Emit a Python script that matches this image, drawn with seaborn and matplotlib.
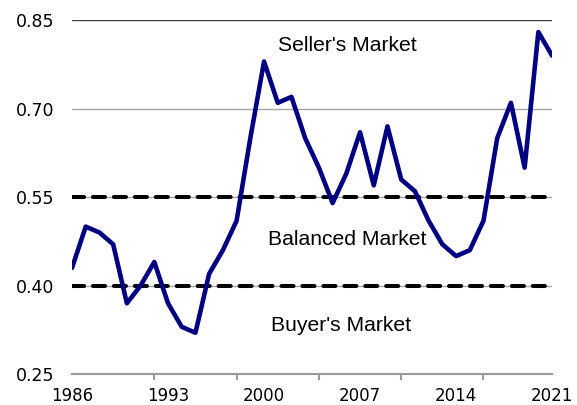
import pandas as pd
import matplotlib
matplotlib.use("Agg")
import matplotlib.pyplot as plt
import seaborn as sns

# ── Data ──────────────────────────────────────────────
years = list(range(1986, 2022))
ratio = [0.43, 0.50, 0.49, 0.47, 0.37, 0.40, 0.44, 0.37, 0.33, 0.32,
         0.42, 0.46, 0.51, 0.65, 0.78, 0.71, 0.72, 0.65, 0.60, 0.54,
         0.59, 0.66, 0.57, 0.67, 0.58, 0.56, 0.51, 0.47, 0.45, 0.46,
         0.51, 0.65, 0.71, 0.60, 0.83, 0.79]
thresholds = [0.55, 0.40]
zone_labels = ["Seller's Market", "Balanced Market", "Buyer's Market"]
zone_pos = [(2006.1, 0.807), (2006.1, 0.478), (2005.6, 0.332)]
label_years = [1986, 1993, 2000, 2007, 2014, 2021]
mark_years = [1986, 1992, 1998, 2004, 2010, 2016]
y_ticks = [0.25, 0.40, 0.55, 0.70, 0.85]

df = pd.DataFrame({"Year": years, "Ratio": ratio})

# ── Plot ──────────────────────────────────────────────
sns.set_theme(style="white")
plt.rcParams["font.family"] = ["DejaVu Sans"]

fig = plt.figure(figsize=(5.77, 4.05), dpi=100)
ax = fig.add_axes([0.1248, 0.0765, 0.832, 0.8735])

for y in y_ticks[1:]:
    ax.axhline(y, color="#404040" if y == 0.85 else "#a6a6a6",
               linewidth=1.0, zorder=1)

for t in thresholds:
    ax.axhline(t, color="black", linewidth=2.9, linestyle=(0, (3.0, 2.2)),
               dash_capstyle="round", zorder=2)

sns.lineplot(data=df, x="Year", y="Ratio", ax=ax, color="#000080",
             linewidth=3.3, zorder=3)

for text, (x, y) in zip(zone_labels, zone_pos):
    ax.text(x, y, text, ha="center", va="center", fontsize=15.2,
            family=["Liberation Sans"], color="black")

ax.set_xlim(1986, 2021)
ax.set_ylim(0.25, 0.85)
ax.set_yticks(y_ticks)
ax.set_yticklabels([f"{v:.2f}" for v in y_ticks])
ax.set_xticks(label_years)
ax.set_xticklabels([str(v) for v in label_years])
ax.set_xticks(mark_years, minor=True)
ax.tick_params(axis="x", which="major", length=0, labelsize=12, pad=9,
               labelcolor="black")
ax.tick_params(axis="x", which="minor", length=4, width=1.5,
               color="#999999", direction="out", bottom=True)
ax.tick_params(axis="y", length=0, labelsize=12.5, pad=13,
               labelcolor="black")
ax.set_xlabel("")
ax.set_ylabel("")

for side in ["top", "right", "left"]:
    ax.spines[side].set_visible(False)
ax.spines["bottom"].set_color("#999999")
ax.spines["bottom"].set_linewidth(1.5)

plt.savefig("out.png", dpi=100)
plt.close()
